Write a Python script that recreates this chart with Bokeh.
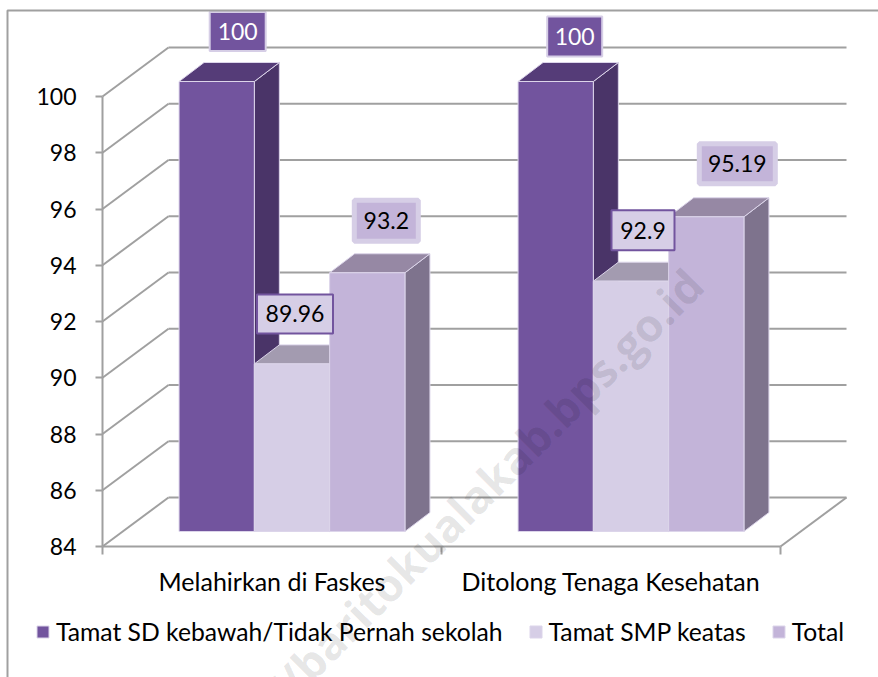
from bokeh.plotting import figure
from bokeh.embed import file_html
from bokeh.resources import INLINE
from bokeh.models import Range1d, FixedTicker, Legend, LegendItem, Label
from bokeh.core.properties import value

categories = ["Melahirkan di Faskes", "Ditolong Tenaga Kesehatan"]
series_names = ["Tamat SD kebawah/Tidak Pernah sekolah", "Tamat SMP keatas", "Total"]
sd_values = [100, 100]
smp_values = [89.96, 92.9]
total_values = [93.2, 95.19]
y_ticks = [84, 86, 88, 90, 92, 94, 96, 98, 100]
watermark = "http://baritokualakab.bps.go.id"

# --- style / layout ---
FONT = "Lato"
W, H = 878, 677
AXIS_LEFT, AXIS_BOTTOM = 102, 131
PX_PER_CAT = 339.0
PX_PER_UNIT = 28.125
px = lambda n: n / PX_PER_CAT
py = lambda n: n / PX_PER_UNIT
WALL_DX, WALL_DY = px(66), py(49)
FRONT_DX, FRONT_DY = px(20), py(15)
BAR_DX, BAR_DY = px(25), py(19)
BAR_W = px(75.3)
GREY = "#a0a0a0"
EDGE = "#dcd5ea"

faces = [
    dict(front="#72549e", side="#4a3468", top="#553c78"),
    dict(front="#d6cee6", side="#807590", top="#a39bb0"),
    dict(front="#c3b4d9", side="#7e738d", top="#9688a4"),
]
# label box style per series / category
label_dx = [[21, 19], [3, 12], [19, 31]]
label_dy = [[50, 45], [50, 51], [52, 53]]
label_w = [[56, 55], [76, 63], [64, 76]]
label_h = [[39, 40], [39, 40], [41, 40]]
label_fill = ["#72549e", "#d6cee6", "#c3b4d9"]
label_line = ["#d6cee6", "#72549e", "#d6cee6"]
label_lw = [2, 2, 5]
label_text = ["#ffffff", "#000000", "#000000"]

y0 = y_ticks[0]
p = figure(
    width=W, height=H, output_backend="svg", toolbar_location=None,
    x_range=Range1d(-px(AXIS_LEFT), px(W - AXIS_LEFT)),
    y_range=Range1d(y0 - py(AXIS_BOTTOM), y0 + py(H - AXIS_BOTTOM)),
    min_border_left=0, min_border_right=0, min_border_top=0, min_border_bottom=0,
)
p.outline_line_color = None
p.grid.grid_line_color = None
p.background_fill_color = "#ffffff"

# axes sit inside the frame, so that the frame fills the whole canvas
xa, ya = p.xaxis[0], p.yaxis[0]
xa.fixed_location = y0
ya.fixed_location = 0
xa.bounds = (0, len(categories))
ya.bounds = (y_ticks[0], y_ticks[-1])
centers = [i + 0.5 for i in range(len(categories))]
xa.ticker = FixedTicker(ticks=centers, minor_ticks=list(range(len(categories) + 1)))
xa.major_label_overrides = {c: n for c, n in zip(centers, categories)}
xa.major_tick_out = 0
xa.major_tick_in = 0
xa.minor_tick_out = 8
xa.minor_tick_in = 0
xa.minor_tick_line_color = GREY
xa.minor_tick_line_width = 2
xa.major_label_standoff = 11
xa.major_label_text_font_size = "25px"
ya.ticker = FixedTicker(ticks=y_ticks)
ya.major_tick_out = 7
ya.major_tick_in = 0
ya.major_tick_line_color = GREY
ya.major_tick_line_width = 2
ya.major_label_standoff = 19
ya.major_label_text_font_size = "23px"
for a in (xa, ya):
    a.axis_line_color = GREY
    a.axis_line_width = 2
    a.major_label_text_font = FONT
    a.major_label_text_color = "#000000"

# back wall and floor
n = len(categories)
gx = [[0, WALL_DX] for _ in y_ticks] + [[WALL_DX, n + WALL_DX] for _ in y_ticks] + [[n, n + WALL_DX]]
gy = [[t, t + WALL_DY] for t in y_ticks] + [[t + WALL_DY, t + WALL_DY] for t in y_ticks] + [[y0, y0 + WALL_DY]]
p.multi_line(gx, gy, line_color=GREY, line_width=2)

# bars
all_values = [sd_values, smp_values, total_values]
base = y0 + FRONT_DY
legend_items = []
bar_x = [[c + FRONT_DX + (s - 1) * BAR_W for c in centers] for s in range(3)]
for s, vals in enumerate(all_values):
    f = faces[s]
    xs = bar_x[s]
    sx, sy, tx, ty = [], [], [], []
    for x, v in zip(xs, vals):
        t = v + FRONT_DY
        l, r = x - BAR_W / 2, x + BAR_W / 2
        sx.append([r, r, r + BAR_DX, r + BAR_DX])
        sy.append([base, t, t + BAR_DY, base + BAR_DY])
        tx.append([l, r, r + BAR_DX, l + BAR_DX])
        ty.append([t, t, t + BAR_DY, t + BAR_DY])
    p.patches(sx, sy, fill_color=f["side"], line_color=EDGE, line_width=1)
    p.patches(tx, ty, fill_color=f["top"], line_color=EDGE, line_width=1)
    r = p.vbar(x=xs, top=[v + FRONT_DY for v in vals], bottom=base, width=BAR_W,
               fill_color=f["front"], line_color=EDGE, line_width=1)
    legend_items.append(LegendItem(label=series_names[s], renderers=[r]))

# data labels
for s, vals in enumerate(all_values):
    lx = [x + px(d) for x, d in zip(bar_x[s], label_dx[s])]
    ly = [v + FRONT_DY + py(d) for v, d in zip(vals, label_dy[s])]
    p.rect(lx, ly, width=label_w[s], height=label_h[s], width_units="screen", height_units="screen",
           fill_color=label_fill[s], line_color=label_line[s], line_width=label_lw[s])
    p.text(lx, ly, text=[f"{v:g}" for v in vals], text_align="center", text_baseline="middle",
           text_font=value(FONT), text_font_size="23px", text_color=label_text[s])

# watermark
p.add_layout(Label(x=px(592), y=y0 + py(270), text=watermark, angle=45, angle_units="deg",
                   text_align="right", text_baseline="middle", text_font="Open Sans",
                   text_font_style="bold", text_font_size="45px", text_color="#000000",
                   text_alpha=0.11))

# chart border: left and top only
bx0, by1 = px(7 - AXIS_LEFT), y0 + py(H - AXIS_BOTTOM - 10)
p.line([bx0, bx0, px(W - AXIS_LEFT)], [y0 - py(AXIS_BOTTOM), by1, by1], line_color=GREY, line_width=2)

legend = Legend(items=legend_items, orientation="horizontal", location=(35, 31),
                glyph_width=15, glyph_height=15, label_standoff=6, spacing=25,
                padding=0, margin=0, background_fill_alpha=0, border_line_alpha=0,
                label_text_font=FONT, label_text_font_size="24.7px", label_text_color="#000000")
p.add_layout(legend, "center")

open("out.html", "w").write(file_html(p, INLINE))
